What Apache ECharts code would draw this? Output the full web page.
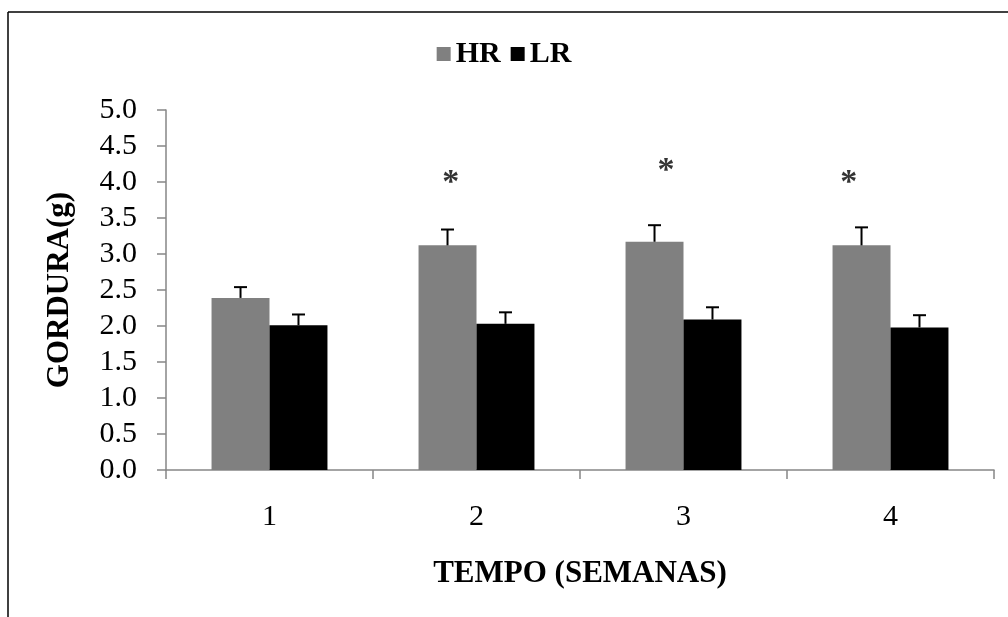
<!DOCTYPE html>
<html><head><meta charset="utf-8">
<script src="https://cdn.jsdelivr.net/npm/echarts@6/dist/echarts.min.js"></script>
<style>html,body{margin:0;padding:0;background:#fff}#c{width:1008px;height:617px}</style>
</head><body><div id="c"></div>
<script>
const categories = ['1', '2', '3', '4'];
const hrValues = [2.39, 3.12, 3.17, 3.12];
const hrErrors = [0.15, 0.22, 0.23, 0.25];
const lrValues = [2.01, 2.03, 2.09, 1.98];
const lrErrors = [0.15, 0.16, 0.17, 0.17];
const starPoints = [[1.875, 3.99], [2.915, 4.15], [3.798, 3.99]];
const yAxisTitle = 'GORDURA(g)';
const xAxisTitle = 'TEMPO (SEMANAS)';

const FONT = '"Liberation Serif", "Times New Roman", serif';
const chart = echarts.init(document.getElementById('c'));

function errorSeries(name, values, errors, side) {
  return {
    type: 'custom', name: name + '_err', xAxisIndex: 0, yAxisIndex: 0, z: 5,
    data: values.map((v, i) => [i, v, v + errors[i]]),
    renderItem: function (params, api) {
      const base = api.coord([api.value(0), api.value(1)]);
      const top = api.coord([api.value(0), api.value(2)]);
      const band = api.size([1, 0])[0];
      const bw = band * 0.56 / 2;
      const x = base[0] + side * bw / 2;
      const cap = 6.5;
      return {
        type: 'group',
        children: [
          { type: 'line', shape: { x1: x, y1: base[1], x2: x, y2: top[1] }, style: { stroke: '#000', lineWidth: 2 } },
          { type: 'line', shape: { x1: x - cap, y1: top[1], x2: x + cap, y2: top[1] }, style: { stroke: '#000', lineWidth: 2 } }
        ]
      };
    }
  };
}

chart.setOption({
  animation: false,
  backgroundColor: '#fff',
  graphic: [
    { type: 'line', shape: { x1: 8, y1: 12, x2: 1010, y2: 12 }, style: { stroke: '#000', lineWidth: 1.5 } },
    { type: 'line', shape: { x1: 8, y1: 12, x2: 8, y2: 620 }, style: { stroke: '#000', lineWidth: 1.5 } },
    { type: 'text', x: 60, y: 290, rotation: Math.PI / 2,
      style: { text: yAxisTitle, font: 'bold 31px ' + FONT, fill: '#000', align: 'center', verticalAlign: 'middle' } }
  ],
  legend: {
    left: 'center', top: 34,
    itemWidth: 14, itemHeight: 14, itemGap: 10,
    icon: 'rect',
    data: ['HR', 'LR'],
    textStyle: { fontFamily: FONT, fontWeight: 'bold', fontSize: 30, color: '#000', padding: [0, 0, 0, 0] }
  },
  grid: { left: 166, right: 14, top: 110, bottom: 147 },
  xAxis: [{
    type: 'category', data: categories,
    axisLine: { lineStyle: { color: '#868686', width: 1.5 } },
    axisTick: { show: true, length: 9, lineStyle: { color: '#868686', width: 1.5 } },
    axisLabel: { fontFamily: FONT, fontSize: 30, color: '#000', margin: 32 },
    name: xAxisTitle, nameLocation: 'middle', nameGap: 88,
    nameTextStyle: { fontFamily: FONT, fontWeight: 'bold', fontSize: 31, color: '#000' }
  }, {
    type: 'value', min: 0.5, max: 4.5, show: false
  }],
  yAxis: {
    type: 'value', min: 0, max: 5, interval: 0.5,
    axisLine: { show: true, lineStyle: { color: '#868686', width: 1.5 } },
    axisTick: { show: true, length: 9, lineStyle: { color: '#868686', width: 1.5 } },
    splitLine: { show: false },
    axisLabel: { fontFamily: FONT, fontSize: 30, color: '#000', margin: 29, formatter: v => v.toFixed(1) }
  },
  series: [
    { name: 'HR', type: 'bar', data: hrValues, barGap: '0%', barCategoryGap: '44%', itemStyle: { color: '#808080' } },
    { name: 'LR', type: 'bar', data: lrValues, itemStyle: { color: '#000000' } },
    errorSeries('HR', hrValues, hrErrors, -1),
    errorSeries('LR', lrValues, lrErrors, 1),
    {
      type: 'scatter', xAxisIndex: 1, yAxisIndex: 0, symbolSize: 0, data: starPoints, z: 6,
      label: { show: true, position: 'inside', formatter: '*', fontFamily: FONT, fontWeight: 'bold', fontSize: 34, color: '#000' }
    }
  ]
});
</script></body></html>
